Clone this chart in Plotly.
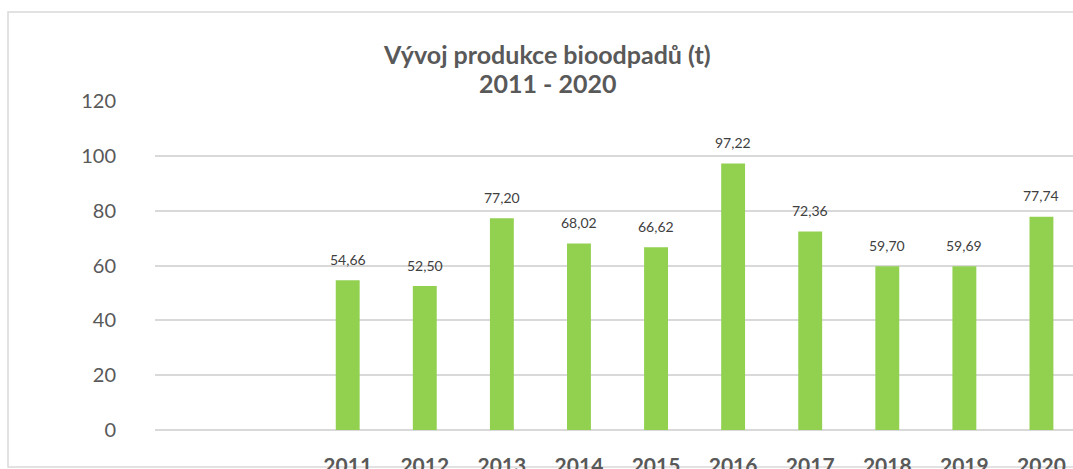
import plotly.graph_objects as go

years = ["2011", "2012", "2013", "2014", "2015", "2016", "2017", "2018", "2019", "2020"]
values = [54.66, 52.50, 77.20, 68.02, 66.62, 97.22, 72.36, 59.70, 59.69, 77.74]
labels = [f"{v:.2f}".replace(".", ",") for v in values]
y_ticks = [0, 20, 40, 60, 80, 100, 120]

W, H = 1073, 469
L, R, T, B = 155, 0, 101, 39
pw, ph = W - L - R, H - T - B
FONT = "Lato, Open Sans, sans-serif"

fig = go.Figure()
fig.add_trace(go.Bar(
    x=years, y=values,
    marker=dict(color="#92D050", line=dict(width=0)),
    width=0.31,
    hoverinfo="skip",
))

for i, (v, t) in enumerate(zip(values, labels)):
    fig.add_annotation(x=i, y=v, xref="x", yref="y", text=t, showarrow=False, yshift=21,
                       font=dict(family=FONT, size=14, color="#404040"))

fig.add_annotation(xref="paper", yref="paper", x=(547 - L) / pw, y=(H - B - 54) / ph,
                   xanchor="center", yanchor="middle",
                   text="<b>Vývoj produkce bioodpadů (t)</b>", showarrow=False,
                   font=dict(family=FONT, size=25, color="#595959"))
fig.add_annotation(xref="paper", yref="paper", x=(547 - L) / pw, y=(H - B - 83) / ph,
                   xanchor="center", yanchor="middle",
                   text="<b>2011 - 2020</b>", showarrow=False,
                   font=dict(family=FONT, size=25, color="#595959"))

# outer chart border
fig.add_shape(type="rect", xref="paper", yref="paper",
              x0=(8 - L) / pw, x1=1.05, y0=(H - B - 467) / ph, y1=(H - B - 12) / ph,
              line=dict(color="#d9d9d9", width=1.5), fillcolor="rgba(0,0,0,0)", layer="below")

fig.update_layout(
    width=W, height=H,
    margin=dict(l=L, r=R, t=T, b=B, pad=0, autoexpand=False),
    paper_bgcolor="white", plot_bgcolor="white",
    showlegend=False,
    xaxis=dict(type="category", range=[-2.5, 9.5 - 7 / 77.1], showgrid=False, automargin=False,
               showline=False, zeroline=False, ticks="", ticklabelstandoff=21,
               tickfont=dict(family=FONT, size=21, color="#595959", weight="bold")),
    yaxis=dict(range=[0, 120], tickvals=y_ticks, showgrid=True, gridcolor="#d9d9d9", gridwidth=1.5,
               zeroline=True, zerolinecolor="#d9d9d9", zerolinewidth=1.5, showline=False,
               ticks="", ticklabelstandoff=38, automargin=False,
               tickfont=dict(family=FONT, size=20, color="#595959")),
)

fig.write_html("out.html", config={"displayModeBar": False},
               post_script="document.body.style.margin='0';document.body.style.overflow='hidden';")
